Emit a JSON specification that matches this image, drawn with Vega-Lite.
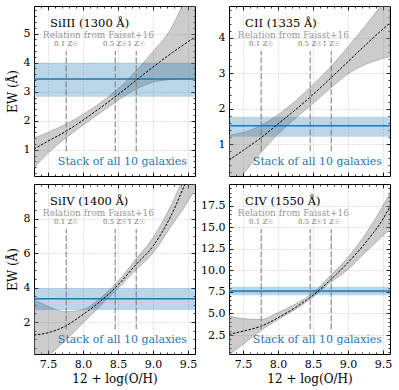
{
  "$schema": "https://vega.github.io/schema/vega-lite/v6.json",
  "padding": {"left": 5, "top": 5, "right": 5, "bottom": 5},
  "columns": 2,
  "spacing": {"row": 8, "column": 34},
  "bounds": "flush",
  "datasets": {
    "curves": [
      {"p": "SiIII", "x": 7.3, "lo": 0.38, "mid": 1.03, "hi": 1.41},
      {"p": "SiIII", "x": 7.5, "lo": 0.88, "mid": 1.30, "hi": 1.60},
      {"p": "SiIII", "x": 7.75, "lo": 1.40, "mid": 1.63, "hi": 1.88},
      {"p": "SiIII", "x": 8.0, "lo": 1.85, "mid": 2.02, "hi": 2.22},
      {"p": "SiIII", "x": 8.25, "lo": 2.28, "mid": 2.45, "hi": 2.62},
      {"p": "SiIII", "x": 8.5, "lo": 2.70, "mid": 2.90, "hi": 3.10},
      {"p": "SiIII", "x": 8.75, "lo": 3.08, "mid": 3.38, "hi": 3.70},
      {"p": "SiIII", "x": 9.0, "lo": 3.33, "mid": 3.85, "hi": 4.38},
      {"p": "SiIII", "x": 9.25, "lo": 3.42, "mid": 4.30, "hi": 5.15},
      {"p": "SiIII", "x": 9.5, "lo": 3.45, "mid": 4.72, "hi": 6.40},
      {"p": "SiIII", "x": 9.6, "lo": 3.46, "mid": 4.88, "hi": 6.90},
      {"p": "CII", "x": 7.3, "lo": -0.30, "mid": 0.55, "hi": 1.25},
      {"p": "CII", "x": 7.5, "lo": 0.15, "mid": 0.82, "hi": 1.33},
      {"p": "CII", "x": 7.75, "lo": 0.75, "mid": 1.17, "hi": 1.52},
      {"p": "CII", "x": 8.0, "lo": 1.28, "mid": 1.57, "hi": 1.83},
      {"p": "CII", "x": 8.25, "lo": 1.73, "mid": 1.97, "hi": 2.22},
      {"p": "CII", "x": 8.5, "lo": 2.15, "mid": 2.40, "hi": 2.68},
      {"p": "CII", "x": 8.75, "lo": 2.58, "mid": 2.86, "hi": 3.18},
      {"p": "CII", "x": 9.0, "lo": 2.98, "mid": 3.33, "hi": 3.75},
      {"p": "CII", "x": 9.25, "lo": 3.25, "mid": 3.80, "hi": 4.35},
      {"p": "CII", "x": 9.5, "lo": 3.42, "mid": 4.25, "hi": 5.00},
      {"p": "CII", "x": 9.6, "lo": 3.47, "mid": 4.42, "hi": 5.30},
      {"p": "SiIV", "x": 7.3, "lo": -0.80, "mid": 1.25, "hi": 3.31},
      {"p": "SiIV", "x": 7.5, "lo": 0.00, "mid": 1.38, "hi": 2.92},
      {"p": "SiIV", "x": 7.75, "lo": 0.95, "mid": 1.77, "hi": 2.60},
      {"p": "SiIV", "x": 8.0, "lo": 1.95, "mid": 2.44, "hi": 2.73},
      {"p": "SiIV", "x": 8.25, "lo": 2.95, "mid": 3.21, "hi": 3.40},
      {"p": "SiIV", "x": 8.5, "lo": 3.95, "mid": 4.15, "hi": 4.37},
      {"p": "SiIV", "x": 8.75, "lo": 5.00, "mid": 5.30, "hi": 5.62},
      {"p": "SiIV", "x": 9.0, "lo": 6.00, "mid": 6.40, "hi": 6.90},
      {"p": "SiIV", "x": 9.25, "lo": 7.50, "mid": 8.10, "hi": 8.70},
      {"p": "SiIV", "x": 9.5, "lo": 9.00, "mid": 10.40, "hi": 11.00},
      {"p": "SiIV", "x": 9.6, "lo": 9.70, "mid": 11.30, "hi": 12.00},
      {"p": "CIV", "x": 7.3, "lo": 0.20, "mid": 2.58, "hi": 4.70},
      {"p": "CIV", "x": 7.5, "lo": 1.40, "mid": 2.95, "hi": 4.40},
      {"p": "CIV", "x": 7.75, "lo": 3.00, "mid": 3.50, "hi": 4.30},
      {"p": "CIV", "x": 8.0, "lo": 4.30, "mid": 4.50, "hi": 5.10},
      {"p": "CIV", "x": 8.25, "lo": 5.50, "mid": 5.70, "hi": 6.10},
      {"p": "CIV", "x": 8.5, "lo": 6.90, "mid": 7.10, "hi": 7.40},
      {"p": "CIV", "x": 8.75, "lo": 8.60, "mid": 8.90, "hi": 9.40},
      {"p": "CIV", "x": 9.0, "lo": 10.10, "mid": 10.90, "hi": 11.50},
      {"p": "CIV", "x": 9.25, "lo": 12.10, "mid": 13.20, "hi": 14.20},
      {"p": "CIV", "x": 9.5, "lo": 14.00, "mid": 15.95, "hi": 17.50},
      {"p": "CIV", "x": 9.6, "lo": 14.80, "mid": 17.40, "hi": 19.00}
    ],
    "stack": [
      {"p": "SiIII", "ew": 3.44, "ewlo": 2.83, "ewhi": 4.0},
      {"p": "CII", "ew": 1.52, "ewlo": 1.21, "ewhi": 1.77},
      {"p": "SiIV", "ew": 3.35, "ewlo": 2.7, "ewhi": 3.98},
      {"p": "CIV", "ew": 7.6, "ewlo": 7.1, "ewhi": 8.1}
    ],
    "zsun": [
      {"p": "SiIII", "oh": 7.76, "lab": "0.1 Z☉", "y0": 0.948, "y1": 4.40, "yl": 4.63},
      {"p": "SiIII", "oh": 8.46, "lab": "0.5 Z☉", "y0": 0.948, "y1": 4.40, "yl": 4.63},
      {"p": "SiIII", "oh": 8.76, "lab": "1 Z☉", "y0": 0.948, "y1": 4.40, "yl": 4.63},
      {"p": "CII", "oh": 7.76, "lab": "0.1 Z☉", "y0": 0.796, "y1": 3.628, "yl": 3.82},
      {"p": "CII", "oh": 8.46, "lab": "0.5 Z☉", "y0": 0.796, "y1": 3.628, "yl": 3.82},
      {"p": "CII", "oh": 8.76, "lab": "1 Z☉", "y0": 0.796, "y1": 3.628, "yl": 3.82},
      {"p": "SiIV", "oh": 7.76, "lab": "0.1 Z☉", "y0": 1.578, "y1": 7.39, "yl": 7.784},
      {"p": "SiIV", "oh": 8.46, "lab": "0.5 Z☉", "y0": 1.578, "y1": 7.39, "yl": 7.784},
      {"p": "SiIV", "oh": 8.76, "lab": "1 Z☉", "y0": 1.578, "y1": 7.39, "yl": 7.784},
      {"p": "CIV", "oh": 7.76, "lab": "0.1 Z☉", "y0": 3.157, "y1": 14.78, "yl": 15.57},
      {"p": "CIV", "oh": 8.46, "lab": "0.5 Z☉", "y0": 3.157, "y1": 14.78, "yl": 15.57},
      {"p": "CIV", "oh": 8.76, "lab": "1 Z☉", "y0": 3.157, "y1": 14.78, "yl": 15.57}
    ],
    "notes": [
      {"p": "SiIII", "title": "SiIII (1300 Å)", "yt": 5.244, "yr": 4.849, "ys": 0.58},
      {"p": "CII", "title": "CII (1335 Å)", "yt": 4.321, "yr": 3.997, "ys": 0.494},
      {"p": "SiIV", "title": "SiIV (1400 Å)", "yt": 8.812, "yr": 8.146, "ys": 0.958},
      {"p": "CIV", "title": "CIV (1550 Å)", "yt": 17.624, "yr": 16.292, "ys": 1.915}
    ]
  },
  "concat": [
    {
      "width": 161, "height": 170,
      "resolve": {"axis": {"x": "independent", "y": "independent"}},
      "layer": [
        {"data": {"name": "curves"}, "transform": [{"filter": "datum.p === 'SiIII'"}],
         "mark": {"type": "area", "clip": true, "interpolate": "monotone", "fill": "#808080", "fillOpacity": 0.4, "stroke": "#808080", "strokeOpacity": 0.6, "strokeWidth": 0.8},
         "encoding": {
           "x": {"field": "x", "type": "quantitative", "scale": {"domain": [7.3, 9.6], "nice": false, "zero": false},
                 "axis": {"orient": "bottom", "values": [7.5, 8, 8.5, 9, 9.5], "labels": false, "title": null, "tickSize": -4, "grid": true}},
           "y": {"field": "hi", "type": "quantitative", "scale": {"domain": [0.1, 5.95], "nice": false, "zero": false},
                 "axis": {"orient": "left", "values": [1, 2, 3, 4, 5], "format": "d", "title": "EW (Å)", "tickSize": -4, "labelPadding": 8, "grid": true}},
           "y2": {"field": "lo"}
         }},
        {"data": {"name": "stack"}, "transform": [{"filter": "datum.p === 'SiIII'"}],
         "mark": {"type": "rect", "color": "#1f77b4", "opacity": 0.3},
         "encoding": {"y": {"field": "ewhi", "type": "quantitative", "axis": null}, "y2": {"field": "ewlo"}}},
        {"data": {"name": "stack"}, "transform": [{"filter": "datum.p === 'SiIII'"}],
         "mark": {"type": "rule", "color": "#1f77b4", "strokeWidth": 1.5},
         "encoding": {"y": {"field": "ew", "type": "quantitative", "axis": null}}},
        {"data": {"name": "curves"}, "transform": [{"filter": "datum.p === 'SiIII'"}],
         "mark": {"type": "line", "clip": true, "interpolate": "monotone", "color": "black", "strokeWidth": 1, "strokeDash": [2.5, 1.5]},
         "encoding": {
           "x": {"field": "x", "type": "quantitative", "axis": {"orient": "top", "values": [7.5, 8, 8.5, 9, 9.5], "labels": false, "title": null, "tickSize": -4, "grid": false}},
           "y": {"field": "mid", "type": "quantitative", "axis": {"orient": "right", "values": [1, 2, 3, 4, 5], "labels": false, "title": null, "tickSize": -4, "grid": false}}
         }},
        {"data": {"name": "zsun"}, "transform": [{"filter": "datum.p === 'SiIII'"}],
         "mark": {"type": "rule", "color": "#777777", "strokeWidth": 1, "strokeDash": [6, 2]},
         "encoding": {
           "x": {"field": "oh", "type": "quantitative", "axis": {"orient": "bottom", "values": [7.4,7.5,7.6,7.7,7.8,7.9,8.0,8.1,8.2,8.3,8.4,8.5,8.6,8.7,8.8,8.9,9.0,9.1,9.2,9.3,9.4,9.5], "labels": false, "title": null, "tickSize": -2, "grid": false}},
           "y": {"field": "y0", "type": "quantitative", "axis": {"orient": "left", "values": [0.2,0.4,0.6,0.8,1,1.2,1.4,1.6,1.8,2,2.2,2.4,2.6,2.8,3,3.2,3.4,3.6,3.8,4,4.2,4.4,4.6,4.8,5,5.2,5.4,5.6,5.8], "labels": false, "title": null, "tickSize": -2, "grid": false}},
           "y2": {"field": "y1"}}},
        {"data": {"name": "zsun"}, "transform": [{"filter": "datum.p === 'SiIII'"}],
         "mark": {"type": "text", "color": "#777777", "fontSize": 7, "baseline": "middle"},
         "encoding": {
           "x": {"field": "oh", "type": "quantitative", "axis": {"orient": "top", "values": [7.4,7.5,7.6,7.7,7.8,7.9,8.0,8.1,8.2,8.3,8.4,8.5,8.6,8.7,8.8,8.9,9.0,9.1,9.2,9.3,9.4,9.5], "labels": false, "title": null, "tickSize": -2, "grid": false}},
           "y": {"field": "yl", "type": "quantitative", "axis": {"orient": "right", "values": [0.2,0.4,0.6,0.8,1,1.2,1.4,1.6,1.8,2,2.2,2.4,2.6,2.8,3,3.2,3.4,3.6,3.8,4,4.2,4.4,4.6,4.8,5,5.2,5.4,5.6,5.8], "labels": false, "title": null, "tickSize": -2, "grid": false}},
           "text": {"field": "lab"}}},
        {"data": {"name": "notes"}, "transform": [{"filter": "datum.p === 'SiIII'"}],
         "mark": {"type": "text", "color": "black", "fontSize": 11.5, "align": "left", "baseline": "alphabetic"},
         "encoding": {"x": {"datum": 7.53, "type": "quantitative", "axis": null}, "y": {"field": "yt", "type": "quantitative", "axis": null}, "text": {"field": "title"}}},
        {"data": {"name": "notes"}, "transform": [{"filter": "datum.p === 'SiIII'"}],
         "mark": {"type": "text", "color": "#999999", "fontSize": 9, "align": "center", "baseline": "alphabetic"},
         "encoding": {"x": {"datum": 8.22, "type": "quantitative", "axis": null}, "y": {"field": "yr", "type": "quantitative", "axis": null}, "text": {"value": "Relation from Faisst+16"}}},
        {"data": {"name": "notes"}, "transform": [{"filter": "datum.p === 'SiIII'"}],
         "mark": {"type": "text", "color": "#1f77b4", "fontSize": 11, "align": "right", "baseline": "middle"},
         "encoding": {"x": {"datum": 9.486, "type": "quantitative", "axis": null}, "y": {"field": "ys", "type": "quantitative", "axis": null}, "text": {"value": "Stack of all 10 galaxies"}}}
      ]
    },
    {
      "width": 161, "height": 170,
      "resolve": {"axis": {"x": "independent", "y": "independent"}},
      "layer": [
        {"data": {"name": "curves"}, "transform": [{"filter": "datum.p === 'CII'"}],
         "mark": {"type": "area", "clip": true, "interpolate": "monotone", "fill": "#808080", "fillOpacity": 0.4, "stroke": "#808080", "strokeOpacity": 0.6, "strokeWidth": 0.8},
         "encoding": {
           "x": {"field": "x", "type": "quantitative", "scale": {"domain": [7.3, 9.6], "nice": false, "zero": false},
                 "axis": {"orient": "bottom", "values": [7.5, 8, 8.5, 9, 9.5], "labels": false, "title": null, "tickSize": -4, "grid": true}},
           "y": {"field": "hi", "type": "quantitative", "scale": {"domain": [0.1, 4.9], "nice": false, "zero": false},
                 "axis": {"orient": "left", "values": [1, 2, 3, 4], "format": "d", "title": null, "tickSize": -4, "labelPadding": 8, "grid": true}},
           "y2": {"field": "lo"}
         }},
        {"data": {"name": "stack"}, "transform": [{"filter": "datum.p === 'CII'"}],
         "mark": {"type": "rect", "color": "#1f77b4", "opacity": 0.3},
         "encoding": {"y": {"field": "ewhi", "type": "quantitative", "axis": null}, "y2": {"field": "ewlo"}}},
        {"data": {"name": "stack"}, "transform": [{"filter": "datum.p === 'CII'"}],
         "mark": {"type": "rule", "color": "#1f77b4", "strokeWidth": 1.5},
         "encoding": {"y": {"field": "ew", "type": "quantitative", "axis": null}}},
        {"data": {"name": "curves"}, "transform": [{"filter": "datum.p === 'CII'"}],
         "mark": {"type": "line", "clip": true, "interpolate": "monotone", "color": "black", "strokeWidth": 1, "strokeDash": [2.5, 1.5]},
         "encoding": {
           "x": {"field": "x", "type": "quantitative", "axis": {"orient": "top", "values": [7.5, 8, 8.5, 9, 9.5], "labels": false, "title": null, "tickSize": -4, "grid": false}},
           "y": {"field": "mid", "type": "quantitative", "axis": {"orient": "right", "values": [1, 2, 3, 4], "labels": false, "title": null, "tickSize": -4, "grid": false}}
         }},
        {"data": {"name": "zsun"}, "transform": [{"filter": "datum.p === 'CII'"}],
         "mark": {"type": "rule", "color": "#777777", "strokeWidth": 1, "strokeDash": [6, 2]},
         "encoding": {
           "x": {"field": "oh", "type": "quantitative", "axis": {"orient": "bottom", "values": [7.4,7.5,7.6,7.7,7.8,7.9,8.0,8.1,8.2,8.3,8.4,8.5,8.6,8.7,8.8,8.9,9.0,9.1,9.2,9.3,9.4,9.5], "labels": false, "title": null, "tickSize": -2, "grid": false}},
           "y": {"field": "y0", "type": "quantitative", "axis": {"orient": "left", "values": [0.2,0.4,0.6,0.8,1,1.2,1.4,1.6,1.8,2,2.2,2.4,2.6,2.8,3,3.2,3.4,3.6,3.8,4,4.2,4.4,4.6,4.8], "labels": false, "title": null, "tickSize": -2, "grid": false}},
           "y2": {"field": "y1"}}},
        {"data": {"name": "zsun"}, "transform": [{"filter": "datum.p === 'CII'"}],
         "mark": {"type": "text", "color": "#777777", "fontSize": 7, "baseline": "middle"},
         "encoding": {
           "x": {"field": "oh", "type": "quantitative", "axis": {"orient": "top", "values": [7.4,7.5,7.6,7.7,7.8,7.9,8.0,8.1,8.2,8.3,8.4,8.5,8.6,8.7,8.8,8.9,9.0,9.1,9.2,9.3,9.4,9.5], "labels": false, "title": null, "tickSize": -2, "grid": false}},
           "y": {"field": "yl", "type": "quantitative", "axis": {"orient": "right", "values": [0.2,0.4,0.6,0.8,1,1.2,1.4,1.6,1.8,2,2.2,2.4,2.6,2.8,3,3.2,3.4,3.6,3.8,4,4.2,4.4,4.6,4.8], "labels": false, "title": null, "tickSize": -2, "grid": false}},
           "text": {"field": "lab"}}},
        {"data": {"name": "notes"}, "transform": [{"filter": "datum.p === 'CII'"}],
         "mark": {"type": "text", "color": "black", "fontSize": 11.5, "align": "left", "baseline": "alphabetic"},
         "encoding": {"x": {"datum": 7.53, "type": "quantitative", "axis": null}, "y": {"field": "yt", "type": "quantitative", "axis": null}, "text": {"field": "title"}}},
        {"data": {"name": "notes"}, "transform": [{"filter": "datum.p === 'CII'"}],
         "mark": {"type": "text", "color": "#999999", "fontSize": 9, "align": "center", "baseline": "alphabetic"},
         "encoding": {"x": {"datum": 8.22, "type": "quantitative", "axis": null}, "y": {"field": "yr", "type": "quantitative", "axis": null}, "text": {"value": "Relation from Faisst+16"}}},
        {"data": {"name": "notes"}, "transform": [{"filter": "datum.p === 'CII'"}],
         "mark": {"type": "text", "color": "#1f77b4", "fontSize": 11, "align": "right", "baseline": "middle"},
         "encoding": {"x": {"datum": 9.486, "type": "quantitative", "axis": null}, "y": {"field": "ys", "type": "quantitative", "axis": null}, "text": {"value": "Stack of all 10 galaxies"}}}
      ]
    },
    {
      "width": 161, "height": 170,
      "resolve": {"axis": {"x": "independent", "y": "independent"}},
      "layer": [
        {"data": {"name": "curves"}, "transform": [{"filter": "datum.p === 'SiIV'"}],
         "mark": {"type": "area", "clip": true, "interpolate": "monotone", "fill": "#808080", "fillOpacity": 0.4, "stroke": "#808080", "strokeOpacity": 0.6, "strokeWidth": 0.8},
         "encoding": {
           "x": {"field": "x", "type": "quantitative", "scale": {"domain": [7.3, 9.6], "nice": false, "zero": false},
                 "axis": {"orient": "bottom", "values": [7.5, 8, 8.5, 9, 9.5], "format": ".1f", "title": "12 + log(O/H)", "tickSize": -4, "labelPadding": 8, "grid": true}},
           "y": {"field": "hi", "type": "quantitative", "scale": {"domain": [0.15, 10], "nice": false, "zero": false},
                 "axis": {"orient": "left", "values": [2, 4, 6, 8], "format": "d", "title": "EW (Å)", "tickSize": -4, "labelPadding": 8, "grid": true}},
           "y2": {"field": "lo"}
         }},
        {"data": {"name": "stack"}, "transform": [{"filter": "datum.p === 'SiIV'"}],
         "mark": {"type": "rect", "color": "#1f77b4", "opacity": 0.3},
         "encoding": {"y": {"field": "ewhi", "type": "quantitative", "axis": null}, "y2": {"field": "ewlo"}}},
        {"data": {"name": "stack"}, "transform": [{"filter": "datum.p === 'SiIV'"}],
         "mark": {"type": "rule", "color": "#1f77b4", "strokeWidth": 1.5},
         "encoding": {"y": {"field": "ew", "type": "quantitative", "axis": null}}},
        {"data": {"name": "curves"}, "transform": [{"filter": "datum.p === 'SiIV'"}],
         "mark": {"type": "line", "clip": true, "interpolate": "monotone", "color": "black", "strokeWidth": 1, "strokeDash": [2.5, 1.5]},
         "encoding": {
           "x": {"field": "x", "type": "quantitative", "axis": {"orient": "top", "values": [7.5, 8, 8.5, 9, 9.5], "labels": false, "title": null, "tickSize": -4, "grid": false}},
           "y": {"field": "mid", "type": "quantitative", "axis": {"orient": "right", "values": [2, 4, 6, 8], "labels": false, "title": null, "tickSize": -4, "grid": false}}
         }},
        {"data": {"name": "zsun"}, "transform": [{"filter": "datum.p === 'SiIV'"}],
         "mark": {"type": "rule", "color": "#777777", "strokeWidth": 1, "strokeDash": [6, 2]},
         "encoding": {
           "x": {"field": "oh", "type": "quantitative", "axis": {"orient": "bottom", "values": [7.4,7.5,7.6,7.7,7.8,7.9,8.0,8.1,8.2,8.3,8.4,8.5,8.6,8.7,8.8,8.9,9.0,9.1,9.2,9.3,9.4,9.5], "labels": false, "title": null, "tickSize": -2, "grid": false}},
           "y": {"field": "y0", "type": "quantitative", "axis": {"orient": "left", "values": [0.5,1,1.5,2,2.5,3,3.5,4,4.5,5,5.5,6,6.5,7,7.5,8,8.5,9,9.5], "labels": false, "title": null, "tickSize": -2, "grid": false}},
           "y2": {"field": "y1"}}},
        {"data": {"name": "zsun"}, "transform": [{"filter": "datum.p === 'SiIV'"}],
         "mark": {"type": "text", "color": "#777777", "fontSize": 7, "baseline": "middle"},
         "encoding": {
           "x": {"field": "oh", "type": "quantitative", "axis": {"orient": "top", "values": [7.4,7.5,7.6,7.7,7.8,7.9,8.0,8.1,8.2,8.3,8.4,8.5,8.6,8.7,8.8,8.9,9.0,9.1,9.2,9.3,9.4,9.5], "labels": false, "title": null, "tickSize": -2, "grid": false}},
           "y": {"field": "yl", "type": "quantitative", "axis": {"orient": "right", "values": [0.5,1,1.5,2,2.5,3,3.5,4,4.5,5,5.5,6,6.5,7,7.5,8,8.5,9,9.5], "labels": false, "title": null, "tickSize": -2, "grid": false}},
           "text": {"field": "lab"}}},
        {"data": {"name": "notes"}, "transform": [{"filter": "datum.p === 'SiIV'"}],
         "mark": {"type": "text", "color": "black", "fontSize": 11.5, "align": "left", "baseline": "alphabetic"},
         "encoding": {"x": {"datum": 7.53, "type": "quantitative", "axis": null}, "y": {"field": "yt", "type": "quantitative", "axis": null}, "text": {"field": "title"}}},
        {"data": {"name": "notes"}, "transform": [{"filter": "datum.p === 'SiIV'"}],
         "mark": {"type": "text", "color": "#999999", "fontSize": 9, "align": "center", "baseline": "alphabetic"},
         "encoding": {"x": {"datum": 8.22, "type": "quantitative", "axis": null}, "y": {"field": "yr", "type": "quantitative", "axis": null}, "text": {"value": "Relation from Faisst+16"}}},
        {"data": {"name": "notes"}, "transform": [{"filter": "datum.p === 'SiIV'"}],
         "mark": {"type": "text", "color": "#1f77b4", "fontSize": 11, "align": "right", "baseline": "middle"},
         "encoding": {"x": {"datum": 9.486, "type": "quantitative", "axis": null}, "y": {"field": "ys", "type": "quantitative", "axis": null}, "text": {"value": "Stack of all 10 galaxies"}}}
      ]
    },
    {
      "width": 161, "height": 170,
      "resolve": {"axis": {"x": "independent", "y": "independent"}},
      "layer": [
        {"data": {"name": "curves"}, "transform": [{"filter": "datum.p === 'CIV'"}],
         "mark": {"type": "area", "clip": true, "interpolate": "monotone", "fill": "#808080", "fillOpacity": 0.4, "stroke": "#808080", "strokeOpacity": 0.6, "strokeWidth": 0.8},
         "encoding": {
           "x": {"field": "x", "type": "quantitative", "scale": {"domain": [7.3, 9.6], "nice": false, "zero": false},
                 "axis": {"orient": "bottom", "values": [7.5, 8, 8.5, 9, 9.5], "format": ".1f", "title": "12 + log(O/H)", "tickSize": -4, "labelPadding": 8, "grid": true}},
           "y": {"field": "hi", "type": "quantitative", "scale": {"domain": [0.3, 20], "nice": false, "zero": false},
                 "axis": {"orient": "left", "values": [2.5, 5, 7.5, 10, 12.5, 15, 17.5], "format": ".1f", "title": null, "tickSize": -4, "labelPadding": 8, "grid": true}},
           "y2": {"field": "lo"}
         }},
        {"data": {"name": "stack"}, "transform": [{"filter": "datum.p === 'CIV'"}],
         "mark": {"type": "rect", "color": "#1f77b4", "opacity": 0.3},
         "encoding": {"y": {"field": "ewhi", "type": "quantitative", "axis": null}, "y2": {"field": "ewlo"}}},
        {"data": {"name": "stack"}, "transform": [{"filter": "datum.p === 'CIV'"}],
         "mark": {"type": "rule", "color": "#1f77b4", "strokeWidth": 1.5},
         "encoding": {"y": {"field": "ew", "type": "quantitative", "axis": null}}},
        {"data": {"name": "curves"}, "transform": [{"filter": "datum.p === 'CIV'"}],
         "mark": {"type": "line", "clip": true, "interpolate": "monotone", "color": "black", "strokeWidth": 1, "strokeDash": [2.5, 1.5]},
         "encoding": {
           "x": {"field": "x", "type": "quantitative", "axis": {"orient": "top", "values": [7.5, 8, 8.5, 9, 9.5], "labels": false, "title": null, "tickSize": -4, "grid": false}},
           "y": {"field": "mid", "type": "quantitative", "axis": {"orient": "right", "values": [2.5, 5, 7.5, 10, 12.5, 15, 17.5], "labels": false, "title": null, "tickSize": -4, "grid": false}}
         }},
        {"data": {"name": "zsun"}, "transform": [{"filter": "datum.p === 'CIV'"}],
         "mark": {"type": "rule", "color": "#777777", "strokeWidth": 1, "strokeDash": [6, 2]},
         "encoding": {
           "x": {"field": "oh", "type": "quantitative", "axis": {"orient": "bottom", "values": [7.4,7.5,7.6,7.7,7.8,7.9,8.0,8.1,8.2,8.3,8.4,8.5,8.6,8.7,8.8,8.9,9.0,9.1,9.2,9.3,9.4,9.5], "labels": false, "title": null, "tickSize": -2, "grid": false}},
           "y": {"field": "y0", "type": "quantitative", "axis": {"orient": "left", "values": [0.5,1,1.5,2,2.5,3,3.5,4,4.5,5,5.5,6,6.5,7,7.5,8,8.5,9,9.5,10,10.5,11,11.5,12,12.5,13,13.5,14,14.5,15,15.5,16,16.5,17,17.5,18,18.5,19,19.5], "labels": false, "title": null, "tickSize": -2, "grid": false}},
           "y2": {"field": "y1"}}},
        {"data": {"name": "zsun"}, "transform": [{"filter": "datum.p === 'CIV'"}],
         "mark": {"type": "text", "color": "#777777", "fontSize": 7, "baseline": "middle"},
         "encoding": {
           "x": {"field": "oh", "type": "quantitative", "axis": {"orient": "top", "values": [7.4,7.5,7.6,7.7,7.8,7.9,8.0,8.1,8.2,8.3,8.4,8.5,8.6,8.7,8.8,8.9,9.0,9.1,9.2,9.3,9.4,9.5], "labels": false, "title": null, "tickSize": -2, "grid": false}},
           "y": {"field": "yl", "type": "quantitative", "axis": {"orient": "right", "values": [0.5,1,1.5,2,2.5,3,3.5,4,4.5,5,5.5,6,6.5,7,7.5,8,8.5,9,9.5,10,10.5,11,11.5,12,12.5,13,13.5,14,14.5,15,15.5,16,16.5,17,17.5,18,18.5,19,19.5], "labels": false, "title": null, "tickSize": -2, "grid": false}},
           "text": {"field": "lab"}}},
        {"data": {"name": "notes"}, "transform": [{"filter": "datum.p === 'CIV'"}],
         "mark": {"type": "text", "color": "black", "fontSize": 11.5, "align": "left", "baseline": "alphabetic"},
         "encoding": {"x": {"datum": 7.53, "type": "quantitative", "axis": null}, "y": {"field": "yt", "type": "quantitative", "axis": null}, "text": {"field": "title"}}},
        {"data": {"name": "notes"}, "transform": [{"filter": "datum.p === 'CIV'"}],
         "mark": {"type": "text", "color": "#999999", "fontSize": 9, "align": "center", "baseline": "alphabetic"},
         "encoding": {"x": {"datum": 8.22, "type": "quantitative", "axis": null}, "y": {"field": "yr", "type": "quantitative", "axis": null}, "text": {"value": "Relation from Faisst+16"}}},
        {"data": {"name": "notes"}, "transform": [{"filter": "datum.p === 'CIV'"}],
         "mark": {"type": "text", "color": "#1f77b4", "fontSize": 11, "align": "right", "baseline": "middle"},
         "encoding": {"x": {"datum": 9.486, "type": "quantitative", "axis": null}, "y": {"field": "ys", "type": "quantitative", "axis": null}, "text": {"value": "Stack of all 10 galaxies"}}}
      ]
    }
  ],
  "config": {
    "font": "DejaVu Serif",
    "mark": {"font": "DejaVu Serif"},
    "text": {"font": "DejaVu Serif"},
    "view": {"stroke": "black", "strokeWidth": 1},
    "axis": {"domain": false, "tickColor": "black", "tickWidth": 0.8, "labelColor": "black", "labelFont": "DejaVu Serif", "labelFontSize": 11, "titleFont": "DejaVu Serif", "titleFontSize": 12, "titleFontWeight": "normal", "titleColor": "black", "gridColor": "#b5b5b5", "gridDash": [1, 2], "gridWidth": 0.8}
  }
}
